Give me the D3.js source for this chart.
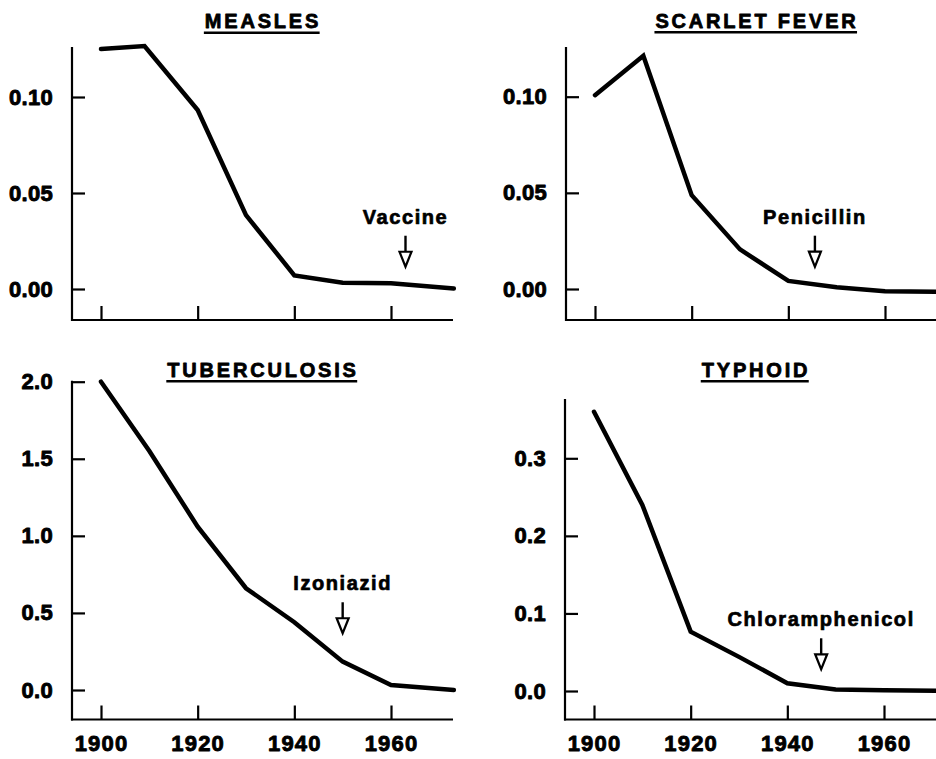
<!DOCTYPE html>
<html><head><meta charset="utf-8">
<script src="https://cdn.jsdelivr.net/npm/d3@7"></script>
<style>body{margin:0;background:#fff;overflow:hidden}</style>
</head><body><svg id="chart" width="936" height="759"></svg>
<script>
// ---- data ----
const xTicks = [1900, 1920, 1940, 1960];
const measlesYears = [1900, 1909, 1920, 1930, 1940, 1950, 1960, 1973];
const measlesRate  = [0.125, 0.1265, 0.0932, 0.0385, 0.0071, 0.0033, 0.0030, 0.0002];
const scarletYears = [1900, 1910, 1920, 1930, 1940, 1950, 1960, 1973];
const scarletRate  = [0.1008, 0.1213, 0.0488, 0.0206, 0.0042, 0.0009, -0.0012, -0.0015];
const tbYears      = [1900, 1910, 1920, 1930, 1940, 1950, 1960, 1973];
const tbRate       = [2.0, 1.55, 1.06, 0.66, 0.44, 0.184, 0.032, 0.0];
const typhoidYears = [1900, 1910, 1920, 1930, 1940, 1950, 1960, 1973];
const typhoidRate  = [0.360, 0.240, 0.0765, 0.044, 0.010, 0.002, 0.001, 0.0];
const titles = ["MEASLES", "SCARLET FEVER", "TUBERCULOSIS", "TYPHOID"];
const measures = ["Vaccine", "Penicillin", "Izoniazid", "Chloramphenicol"];
const measureYears = [1963, 1945.5, 1950, 1947];
const arrowTipValues = [0.0116, 0.0116, 0.368, 0.028];
const measlesTicks = [0, 0.05, 0.10];
const scarletTicks = [0, 0.05, 0.10];
const tbTicks = [0, 0.5, 1.0, 1.5, 2.0];
const typhoidTicks = [0, 0.1, 0.2, 0.3];

// ---- layout ----
const svg = d3.select("#chart");
svg.append("rect").attr("width", 936).attr("height", 759).attr("fill", "#fff");
const FONT = "'Liberation Sans', Arial, Helvetica, sans-serif";

const panels = [
  {title: titles[0], years: measlesYears, vals: measlesRate, ticks: measlesTicks, fmt: ".2f",
   ox: 72, axisY: 320, top: 48, y0: 289, y1: 97, xLabels: false, titleY: 28},
  {title: titles[1], years: scarletYears, vals: scarletRate, ticks: scarletTicks, fmt: ".2f",
   ox: 566, axisY: 320, top: 48, y0: 289, y1: 96.7, xLabels: false, titleY: 27.5},
  {title: titles[2], years: tbYears, vals: tbRate, ticks: tbTicks, fmt: ".1f",
   ox: 72, axisY: 719.5, top: 381.7, y0: 690, y1: 381.7, xLabels: true, titleY: 376.5},
  {title: titles[3], years: typhoidYears, vals: typhoidRate, ticks: typhoidTicks, fmt: ".1f",
   ox: 565, axisY: 719.5, top: 400, y0: 691, y1: 458.3, xLabels: true, titleY: 376.5}
];

function heavy(sel, sw) {
  sel.attr("font-family", FONT).attr("font-weight", "bold").attr("fill", "#000")
     .attr("stroke", "#000").attr("stroke-width", sw).attr("stroke-linejoin", "round");
}

panels.forEach((p, i) => {
  const g = svg.append("g");
  const x = d3.scaleLinear().domain([1900, 1960]).range([p.ox + 29, p.ox + 319]);
  const y = d3.scaleLinear().domain([0, d3.max(p.ticks)]).range([p.y0, p.y1]);

  // y axis
  const ya = d3.axisLeft(y).tickValues(p.ticks).tickFormat(d3.format(p.fmt))
    .tickSizeInner(-13).tickSizeOuter(0).tickPadding(19);
  const yg = g.append("g").attr("transform", `translate(${p.ox},0)`).call(ya);
  yg.select(".domain").remove();
  yg.selectAll("line").attr("stroke", "#000").attr("stroke-width", 2.2);
  heavy(yg.selectAll("text").attr("font-size", 22).attr("letter-spacing", 0.3), 0.9);
  g.append("line").attr("x1", p.ox).attr("x2", p.ox).attr("y1", p.top - 1).attr("y2", p.axisY + 1)
    .attr("stroke", "#000").attr("stroke-width", 2.2);

  // x axis
  const xa = d3.axisBottom(x).tickValues(xTicks)
    .tickFormat(p.xLabels ? d3.format("d") : () => "")
    .tickSizeInner(-14).tickSizeOuter(0).tickPadding(16);
  const xg = g.append("g").attr("transform", `translate(0,${p.axisY})`).call(xa);
  xg.select(".domain").remove();
  xg.selectAll("line").attr("stroke", "#000").attr("stroke-width", 2.2);
  heavy(xg.selectAll("text").attr("font-size", 22).attr("letter-spacing", 1.2), 0.9);
  g.append("line").attr("x1", p.ox - 1).attr("x2", p.ox + 381).attr("y1", p.axisY).attr("y2", p.axisY)
    .attr("stroke", "#000").attr("stroke-width", 2.2);

  // data line
  const pts = p.years.map((yr, k) => [yr, p.vals[k]]);
  g.append("path").datum(pts)
    .attr("d", d3.line().x(d => x(d[0])).y(d => y(d[1])))
    .attr("fill", "none").attr("stroke", "#000").attr("stroke-width", 4.5)
    .attr("stroke-linejoin", "miter").attr("stroke-linecap", "round");

  // title with underline
  const t = g.append("text").attr("x", p.ox + 191).attr("y", p.titleY)
    .attr("text-anchor", "middle").attr("font-size", 20).attr("letter-spacing", 2.8).text(p.title);
  heavy(t, 0.8);
  const bb = t.node().getBBox();
  g.append("line").attr("x1", bb.x - 1).attr("x2", bb.x + bb.width - 1.5)
    .attr("y1", p.titleY + 4.8).attr("y2", p.titleY + 4.8)
    .attr("stroke", "#000").attr("stroke-width", 2.6);

  // intervention arrow + label
  const ax = x(measureYears[i]);
  const tip = y(arrowTipValues[i]);
  g.append("line").attr("x1", ax).attr("x2", ax).attr("y1", tip - 31).attr("y2", tip - 14)
    .attr("stroke", "#000").attr("stroke-width", 2.4);
  g.append("path")
    .attr("d", `M${ax - 6},${tip - 15}L${ax + 6},${tip - 15}L${ax},${tip}Z`)
    .attr("fill", "#fff").attr("stroke", "#000").attr("stroke-width", 2.2)
    .attr("stroke-linejoin", "miter");
  const lt = g.append("text").attr("x", ax).attr("y", tip - 43).attr("text-anchor", "middle")
    .attr("font-size", 20).attr("letter-spacing", 1.6).text(measures[i]);
  heavy(lt, 0.7);
});
</script>
</body></html>
